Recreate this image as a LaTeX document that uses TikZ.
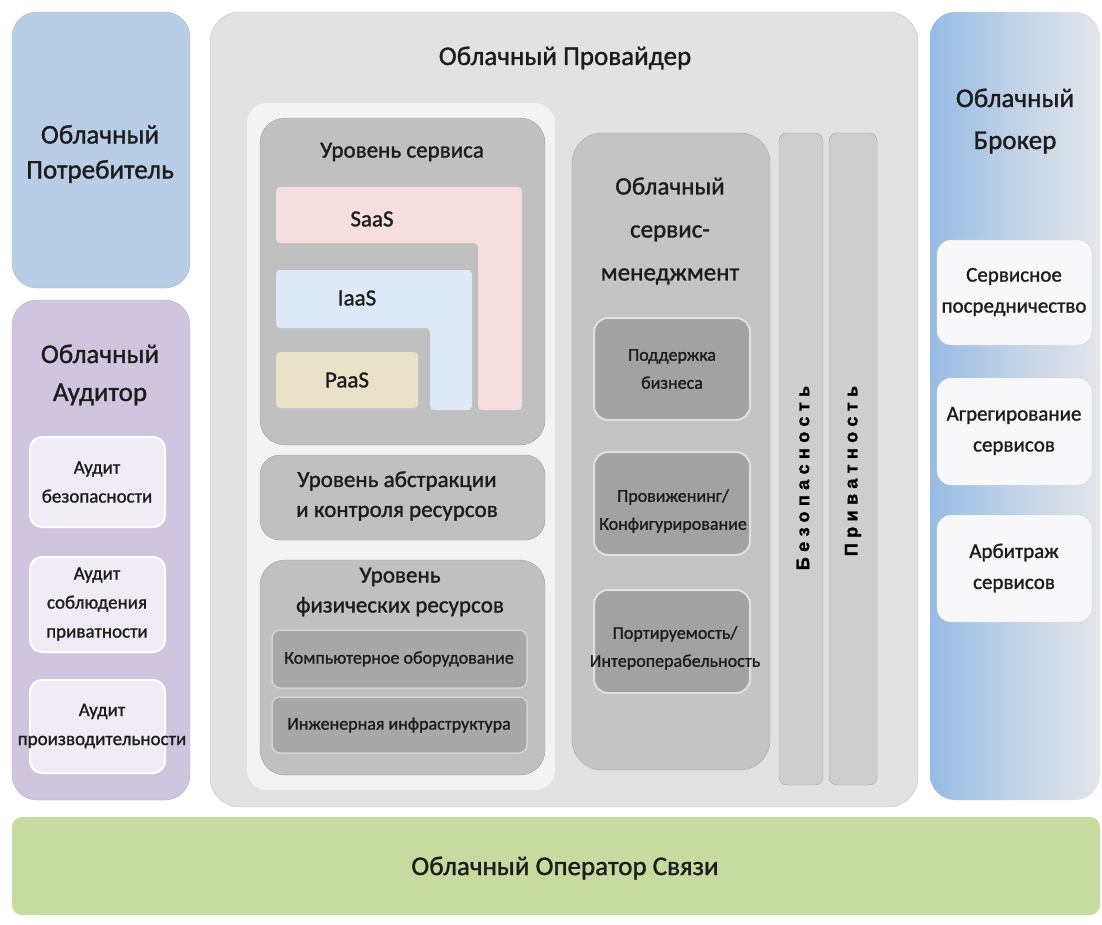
\documentclass[tikz,border=0pt]{standalone}
\usepackage{fontspec}
\setmainfont{Carlito}[FakeBold=1.2]
\newfontfamily\vfont{Liberation Sans}[LetterSpace=30,FakeBold=1.5]
\definecolor{txt}{RGB}{28,28,28}
\definecolor{consumer}{RGB}{184,206,230}
\definecolor{auditor}{RGB}{207,197,222}
\definecolor{auditbox}{RGB}{240,236,245}
\definecolor{provider}{RGB}{226,226,226}
\definecolor{panel}{RGB}{243,243,243}
\definecolor{layer}{RGB}{192,192,192}
\definecolor{layerdark}{RGB}{168,168,168}
\definecolor{mgmt}{RGB}{196,196,196}
\definecolor{mgmtsub}{RGB}{162,162,162}
\definecolor{bar}{RGB}{206,206,206}
\definecolor{saas}{RGB}{246,222,222}
\definecolor{iaas}{RGB}{221,233,246}
\definecolor{paas}{RGB}{232,226,200}
\definecolor{brokerL}{RGB}{150,187,228}
\definecolor{brokerR}{RGB}{228,230,234}
\definecolor{brokersub}{RGB}{248,248,250}
\definecolor{carrier}{RGB}{199,219,160}
\tikzset{
  big/.style={font=\fontsize{27}{38}\selectfont, text=txt, align=center},
  mid/.style={font=\fontsize{23}{30}\selectfont, text=txt, align=center},
  small/.style={font=\fontsize{19}{29}\selectfont, text=txt, align=center},
  sub/.style={font=\fontsize{21}{31}\selectfont, text=txt, align=center},
  tiny/.style={font=\fontsize{18}{28}\selectfont, text=txt, align=center},
  vert/.style={font=\vfont\bfseries\fontsize{18}{20}\selectfont, text=black, rotate=90},
}
\begin{document}
\begin{tikzpicture}[x=1pt,y=-1pt]
\useasboundingbox[fill=white] (0,0) rectangle (1102,924);
% consumer
\path[fill=consumer, draw=consumer!90!black, rounded corners=25pt] (12,12) rectangle (190,288);
\node[big, font=\fontsize{27}{35}\selectfont] (cons) at (100,154) {Облачный\\Потребитель};
% auditor
\path[fill=auditor, draw=auditor!90!black, rounded corners=25pt] (12,300) rectangle (190,800);
\node[big] (aud) at (100,375) {Облачный\\Аудитор};
\path[fill=auditbox, draw=white, line width=2pt, rounded corners=12pt] (30,437) rectangle (165,527);
\node[small] (a1) at (97,482) {Аудит\\безопасности};
\path[fill=auditbox, draw=white, line width=2pt, rounded corners=12pt] (30,557) rectangle (165,652);
\node[small] (a2) at (97,604) {Аудит\\соблюдения\\приватности};
\path[fill=auditbox, draw=white, line width=2pt, rounded corners=12pt] (30,680) rectangle (165,773);
\node[small] (a3) at (102,726) {Аудит\\производительности};
% provider
\path[fill=provider, draw=provider!85!black, rounded corners=30pt] (210,12) rectangle (918,807);
\node[big] (prov) at (565,58) {Облачный Провайдер};
\path[fill=panel, rounded corners=20pt] (247,103) rectangle (555,790);
% service layer
\path[fill=layer, draw=layer!85!black, rounded corners=25pt] (260,118) rectangle (545,445);
\node[mid] (sl) at (402,152) {Уровень сервиса};
\path[fill=saas, rounded corners=4pt] (276,187) -- (522,187) -- (522,410) -- (478,410) -- (478,243) -- (276,243) -- cycle;
\node[mid] (saasn) at (372,219) {SaaS};
\path[fill=iaas, rounded corners=4pt] (276,270) -- (472,270) -- (472,410) -- (430,410) -- (430,328) -- (276,328) -- cycle;
\node[mid] (iaasn) at (357,298) {IaaS};
\path[fill=paas, rounded corners=4pt] (276,352) rectangle (418,408);
\node[mid] (paasn) at (347,380) {PaaS};
% abstraction
\path[fill=layer, draw=layer!85!black, rounded corners=20pt] (260,455) rectangle (545,540);
\node[mid] (abs) at (397,496) {Уровень абстракции\\и контроля ресурсов};
% physical
\path[fill=layer, draw=layer!85!black, rounded corners=25pt] (260,560) rectangle (545,775);
\node[mid] (phys) at (400,592) {Уровень\\физических ресурсов};
\path[fill=layerdark, draw=layer!70!white, line width=1.5pt, rounded corners=8pt] (272,630) rectangle (527,688);
\node[tiny] (hw) at (399,659) {Компьютерное\ оборудование};
\path[fill=layerdark, draw=layer!70!white, line width=1.5pt, rounded corners=8pt] (272,697) rectangle (527,753);
\node[tiny] (inf) at (399,725) {Инженерная\ инфраструктура};
% management
\path[fill=mgmt, draw=mgmt!85!black, rounded corners=30pt] (572,133) rectangle (770,770);
\node[font=\fontsize{25}{43}\selectfont, text=txt, align=center] (mg) at (670,231) {Облачный\\сервис-\\менеджмент};
\path[fill=mgmtsub, draw=white!88!black, line width=2pt, rounded corners=14pt] (594,318) rectangle (750,420);
\node[tiny] (m1) at (672,369) {Поддержка\\бизнеса};
\path[fill=mgmtsub, draw=white!88!black, line width=2pt, rounded corners=14pt] (594,452) rectangle (750,555);
\node[tiny] (m2) at (673,511) {Провиженинг/\\Конфигурирование};
\path[fill=mgmtsub, draw=white!88!black, line width=2pt, rounded corners=14pt] (594,590) rectangle (750,693);
\node[tiny] (m3) at (675,648) {Портируемость/\\Интероперабельность};
% bars
\path[fill=bar, draw=bar!80!black, rounded corners=8pt] (779,133) rectangle (823,785);
\node[vert] (sec) at (803,478) {Безопасность};
\path[fill=bar, draw=bar!80!black, rounded corners=8pt] (829,133) rectangle (877,785);
\node[vert] (priv) at (853,471) {Приватность};
% broker
\shade[left color=brokerL, right color=brokerR, middle color=brokerL!45!brokerR, rounded corners=25pt] (930,12) rectangle (1100,800);
\node[big, font=\fontsize{27}{42}\selectfont] (brk) at (1015,121) {Облачный\\Брокер};
\path[fill=brokersub, draw=white!85!black, rounded corners=14pt] (937,240) rectangle (1092,345);
\node[sub] (b1) at (1014,292) {Сервисное\\посредничество};
\path[fill=brokersub, draw=white!85!black, rounded corners=14pt] (937,378) rectangle (1092,485);
\node[sub] (b2) at (1014,431) {Агрегирование\\сервисов};
\path[fill=brokersub, draw=white!85!black, rounded corners=14pt] (937,515) rectangle (1092,622);
\node[sub] (b3) at (1014,568) {Арбитраж\\сервисов};
% carrier
\path[fill=carrier, rounded corners=10pt] (12,817) rectangle (1100,915);
\node[big] (car) at (565,868) {Облачный Оператор Связи};
\end{tikzpicture}
\end{document}
